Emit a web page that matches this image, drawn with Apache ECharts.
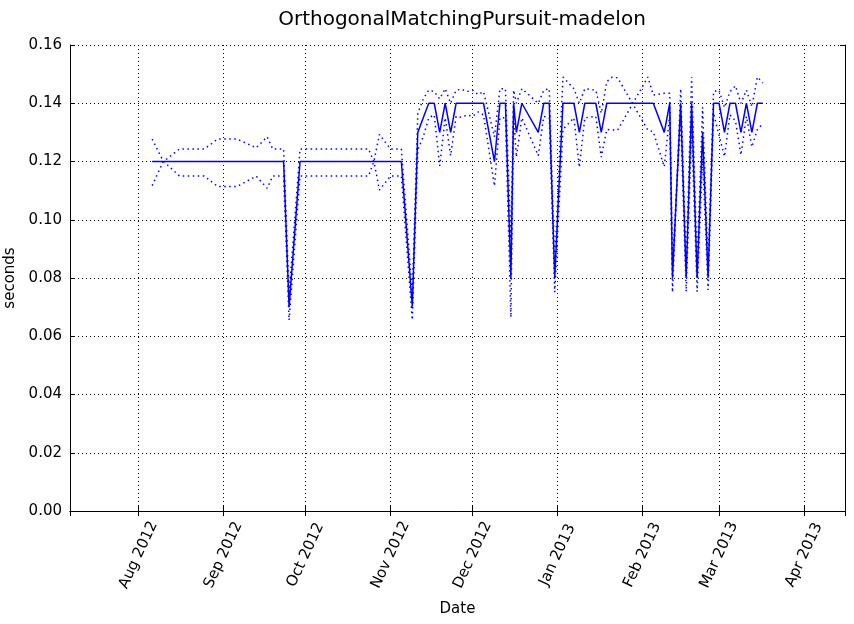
<!DOCTYPE html>
<html>
<head>
<meta charset="utf-8">
<script src="https://cdn.jsdelivr.net/npm/echarts@6/dist/echarts.min.js"></script>
<style>
  html, body { margin: 0; padding: 0; background: #ffffff; }
  #chart { width: 854px; height: 624px; }
</style>
</head>
<body>
<div id="chart"></div>
<script>
// benchmark runs: date, mean time and the two dotted bounds
var dates = [
  '2012-08-06', '2012-08-10', '2012-08-16', '2012-08-25', '2012-08-30', '2012-09-06',
  '2012-09-13', '2012-09-17', '2012-09-19', '2012-09-23', '2012-09-25', '2012-09-29',
  '2012-10-24', '2012-10-26', '2012-10-28', '2012-11-01', '2012-11-05', '2012-11-09',
  '2012-11-11', '2012-11-13', '2012-11-15', '2012-11-17', '2012-11-19', '2012-11-21',
  '2012-11-23', '2012-11-25', '2012-11-27', '2012-11-29', '2012-12-01', '2012-12-03',
  '2012-12-05', '2012-12-09', '2012-12-11', '2012-12-13', '2012-12-15', '2012-12-16',
  '2012-12-17', '2012-12-19', '2012-12-25', '2012-12-27', '2012-12-29', '2012-12-31',
  '2013-01-03', '2013-01-07', '2013-01-09', '2013-01-11', '2013-01-15', '2013-01-17',
  '2013-01-19', '2013-01-21', '2013-01-23', '2013-02-03', '2013-02-05', '2013-02-09',
  '2013-02-11', '2013-02-12', '2013-02-15', '2013-02-17', '2013-02-19', '2013-02-21',
  '2013-02-23', '2013-02-25', '2013-02-27', '2013-03-01', '2013-03-03', '2013-03-05',
  '2013-03-07', '2013-03-09', '2013-03-11', '2013-03-13', '2013-03-15', '2013-03-17'
];
var meanValues = [
  0.120, 0.120, 0.120, 0.120, 0.120, 0.120,
  0.120, 0.120, 0.120, 0.120, 0.070, 0.120,
  0.120, 0.120, 0.120, 0.120, 0.120, 0.0701,
  0.130, 0.135, 0.140, 0.140, 0.130, 0.140,
  0.130, 0.140, 0.140, 0.140, 0.140, 0.140,
  0.140, 0.120, 0.140, 0.140, 0.080, 0.140,
  0.130, 0.140, 0.130, 0.140, 0.140, 0.080,
  0.140, 0.140, 0.130, 0.140, 0.140, 0.130,
  0.140, 0.140, 0.140, 0.140, 0.140, 0.130,
  0.140, 0.080, 0.140, 0.080, 0.140, 0.080,
  0.130, 0.080, 0.140, 0.140, 0.130, 0.140,
  0.140, 0.130, 0.140, 0.130, 0.140, 0.140
];
var boundA = [
  0.1277, 0.1202, 0.1150, 0.1150, 0.1114, 0.1114,
  0.1150, 0.1108, 0.1150, 0.1150, 0.0655, 0.1150,
  0.1150, 0.1201, 0.1293, 0.1243, 0.1243, 0.0745,
  0.1365, 0.1415, 0.1445, 0.1440, 0.1415, 0.1450,
  0.1400, 0.1445, 0.1448, 0.1440, 0.1445, 0.1430,
  0.1440, 0.1285, 0.1450, 0.1450, 0.0935, 0.1445,
  0.1400, 0.1450, 0.1400, 0.1445, 0.1450, 0.0849,
  0.1490, 0.1450, 0.1400, 0.1450, 0.1445, 0.1366,
  0.1474, 0.1490, 0.1487, 0.1308, 0.1302, 0.1182,
  0.1360, 0.0751, 0.1450, 0.0847, 0.1490, 0.0847,
  0.1386, 0.0841, 0.1440, 0.1445, 0.1385, 0.1440,
  0.1460, 0.1400, 0.1445, 0.1388, 0.1490, 0.1470
];
var boundB = [
  0.1117, 0.1199, 0.1243, 0.1243, 0.1277, 0.1277,
  0.1247, 0.1285, 0.1243, 0.1243, 0.0745, 0.1243,
  0.1243, 0.1199, 0.1102, 0.1150, 0.1150, 0.0656,
  0.1240, 0.1285, 0.1350, 0.1360, 0.1185, 0.1350,
  0.1220, 0.1355, 0.1352, 0.1360, 0.1355, 0.1370,
  0.1360, 0.1116, 0.1350, 0.1350, 0.0665, 0.1355,
  0.1215, 0.1350, 0.1220, 0.1355, 0.1350, 0.0751,
  0.1310, 0.1350, 0.1180, 0.1350, 0.1355, 0.1215,
  0.1310, 0.1308, 0.1308, 0.1490, 0.1428, 0.1434,
  0.1434, 0.0849, 0.1350, 0.0753, 0.1310, 0.0753,
  0.1210, 0.0759, 0.1366, 0.1290, 0.1217, 0.1360,
  0.1340, 0.1222, 0.1355, 0.1250, 0.1310, 0.1330
];
var yTicks = { min: 0, max: 0.16, step: 0.02 };
var monthNames = ['Jan', 'Feb', 'Mar', 'Apr', 'May', 'Jun', 'Jul', 'Aug', 'Sep', 'Oct', 'Nov', 'Dec'];

function pairs(values) {
  return dates.map(function (d, i) { return [d, values[i]]; });
}

var chart = echarts.init(document.getElementById('chart'), null, { renderer: 'canvas' });
var font = 'DejaVu Sans';
var dayMs = 24 * 3600 * 1000;

var xCommon = {
  type: 'time',
  min: '2012-07-07',
  max: '2013-04-16',
  minInterval: 28 * dayMs,
  maxInterval: 31 * dayMs,
  axisLine: { show: true, lineStyle: { color: '#000', width: 1 } },
  axisTick: { show: true, inside: true, length: 5, lineStyle: { color: '#000' } }
};
var yCommon = {
  type: 'value',
  min: yTicks.min,
  max: yTicks.max,
  interval: yTicks.step,
  axisLine: { show: true, lineStyle: { color: '#000', width: 1 } },
  axisTick: { show: true, inside: true, length: 5, lineStyle: { color: '#000' } }
};

var option = {
  backgroundColor: '#ffffff',
  animation: false,
  title: {
    text: 'OrthogonalMatchingPursuit-madelon',
    left: 457,
    textAlign: 'center',
    top: 5,
    textStyle: { fontFamily: font, fontSize: 20, fontWeight: 'normal', color: '#000' }
  },
  grid: { left: 70, right: 9, top: 45, bottom: 113, containLabel: false, outerBoundsMode: 'none' },
  xAxis: [
    Object.assign({}, xCommon, {
      position: 'bottom',
      name: 'Date',
      nameLocation: 'middle',
      nameGap: 91,
      nameTextStyle: { fontFamily: font, fontSize: 15, color: '#000' },
      axisLabel: {
        rotate: 65,
        align: 'center',
        verticalAlign: 'middle',
        margin: 44,
        fontFamily: font,
        fontSize: 15,
        color: '#000',
        showMinLabel: false,
        showMaxLabel: false,
        formatter: function (val) {
          var d = new Date(val);
          return monthNames[d.getMonth()] + ' ' + d.getFullYear();
        }
      },
      splitLine: { show: true, lineStyle: { color: '#000', type: [1, 3], width: 1 } }
    }),
    Object.assign({}, xCommon, {
      position: 'top',
      axisLabel: { show: false },
      splitLine: { show: false }
    })
  ],
  yAxis: [
    Object.assign({}, yCommon, {
      position: 'left',
      name: 'seconds',
      nameLocation: 'middle',
      nameGap: 44,
      nameTextStyle: { fontFamily: font, fontSize: 15, color: '#000' },
      axisLabel: {
        margin: 8,
        fontFamily: font,
        fontSize: 15,
        color: '#000',
        formatter: function (v) { return v.toFixed(2); }
      },
      splitLine: { show: true, lineStyle: { color: '#000', type: [1, 3], width: 1 } }
    }),
    Object.assign({}, yCommon, {
      position: 'right',
      axisLabel: { show: false },
      splitLine: { show: false }
    })
  ],
  series: [
    {
      name: 'mean',
      type: 'line',
      data: pairs(meanValues),
      showSymbol: false,
      symbol: 'none',
      lineStyle: { color: '#0000ff', width: 1.5 },
      z: 3
    },
    {
      name: 'bound A',
      type: 'line',
      data: pairs(boundA),
      showSymbol: false,
      symbol: 'none',
      lineStyle: { color: '#0000ff', width: 1.5, type: [1.5, 3.5] },
      z: 2
    },
    {
      name: 'bound B',
      type: 'line',
      data: pairs(boundB),
      showSymbol: false,
      symbol: 'none',
      lineStyle: { color: '#0000ff', width: 1.5, type: [1.5, 3.5] },
      z: 2
    }
  ]
};

chart.setOption(option);
</script>
</body>
</html>
